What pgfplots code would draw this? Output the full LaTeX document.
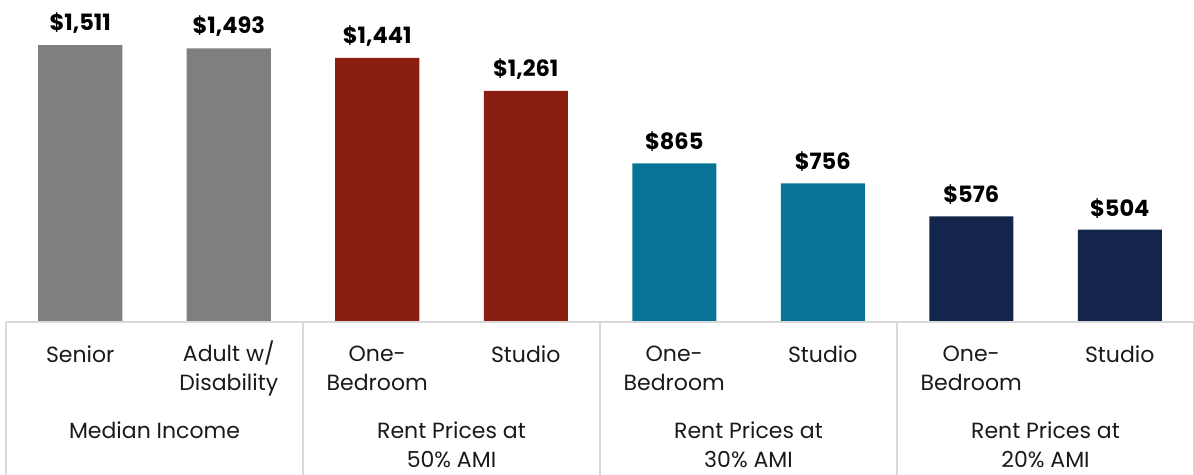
\documentclass[border=0pt]{standalone}
\usepackage{fontspec}
\setmainfont{Poppins}
\usepackage{pgfplots}
\pgfplotsset{compat=1.18}
\definecolor{cgray}{HTML}{7F7F7F}
\definecolor{cred}{HTML}{8A1F11}
\definecolor{cteal}{HTML}{077396}
\definecolor{cnavy}{HTML}{13254A}
\definecolor{cline}{HTML}{D9D9D9}
\definecolor{ctext}{HTML}{1A1A1A}
\begin{document}
\begin{tikzpicture}
\useasboundingbox (0,0) rectangle (1194pt,474pt);
\begin{axis}[
  at={(6pt,152pt)}, anchor=south west,
  scale only axis, width=1188pt, height=322pt,
  xmin=-0.5, xmax=7.5, ymin=0, ymax=1756.5,
  axis x line=bottom, axis y line=none, axis line style={draw=none},
  ymajorticks=false, clip=false,
  ybar, bar width=84pt, bar shift=0pt,
  xtick={0,...,7}, major tick length=0pt,
  xticklabels={Senior,{Adult w\smash{/}\\Disability},{One-\\Bedroom},Studio,{One-\\Bedroom},Studio,{One-\\Bedroom},Studio},
  xticklabel style={font=\fontsize{22}{29}\selectfont, align=center, anchor=north, yshift=-20pt, text=ctext},
  every node near coord/.append style={font=\fontsize{22.5}{26}\selectfont\bfseries, text=black, anchor=south, yshift=8pt},
  nodes near coords={\$\pgfmathprintnumber[assume math mode=true,1000 sep={,}]{\pgfplotspointmeta}},
]
\addplot[fill=cgray, draw=none] coordinates {(0,1511) (1,1493)};
\addplot[fill=cred, draw=none] coordinates {(2,1441) (3,1261)};
\addplot[fill=cteal, draw=none] coordinates {(4,865) (5,756)};
\addplot[fill=cnavy, draw=none] coordinates {(6,576) (7,504)};
\draw[cline, line width=1.5pt] (axis cs:-0.5,0) -- (axis cs:7.5,0);
\draw[cline, line width=1.5pt] (axis cs:-0.5,0) -- ([yshift=-160pt]axis cs:-0.5,0);
\draw[cline, line width=1.5pt] (axis cs:1.5,0) -- ([yshift=-160pt]axis cs:1.5,0);
\draw[cline, line width=1.5pt] (axis cs:3.5,0) -- ([yshift=-160pt]axis cs:3.5,0);
\draw[cline, line width=1.5pt] (axis cs:5.5,0) -- ([yshift=-160pt]axis cs:5.5,0);
\draw[cline, line width=1.5pt] (axis cs:7.5,0) -- ([yshift=-160pt]axis cs:7.5,0);
\node[font=\fontsize{22}{29}\selectfont, text=ctext, align=center, anchor=base] at ([yshift=-116pt]axis cs:0.5,0) {Median Income};
\node[font=\fontsize{22}{29}\selectfont, text=ctext, align=center, anchor=base] at ([yshift=-145pt]axis cs:2.5,0) {Rent Prices at\\50\% AMI};
\node[font=\fontsize{22}{29}\selectfont, text=ctext, align=center, anchor=base] at ([yshift=-145pt]axis cs:4.5,0) {Rent Prices at\\30\% AMI};
\node[font=\fontsize{22}{29}\selectfont, text=ctext, align=center, anchor=base] at ([yshift=-145pt]axis cs:6.5,0) {Rent Prices at\\20\% AMI};
\end{axis}
\end{tikzpicture}
\end{document}
